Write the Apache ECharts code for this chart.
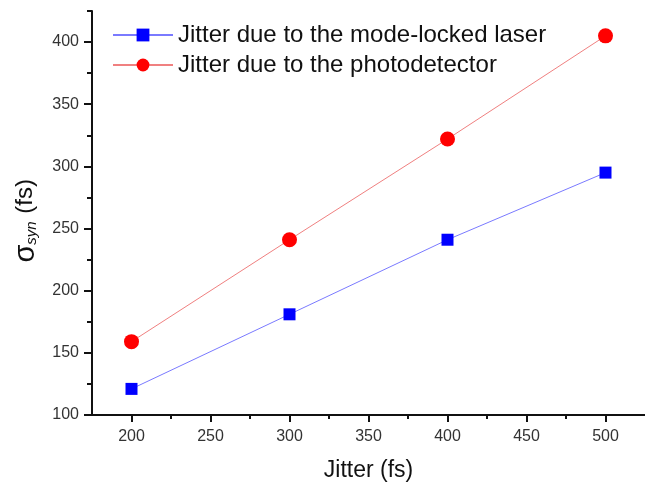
<!DOCTYPE html>
<html><head><meta charset="utf-8">
<script src="https://cdn.jsdelivr.net/npm/echarts@6/dist/echarts.min.js"></script>
<style>html,body{margin:0;padding:0;background:#fff}#c{width:645px;height:487px}</style>
</head><body><div id="c"></div>
<script>
const jitter = [200, 300, 400, 500];
const laserSeries = [121, 181, 241, 295];
const pdSeries = [159, 241, 322, 405];
const xMajor = [200, 250, 300, 350, 400, 450, 500];
const xMinor = [225, 275, 325, 375, 425, 475];
const yMajor = [100, 150, 200, 250, 300, 350, 400];
const yMinor = [125, 175, 225, 275, 325, 375, 425];
const names = ['Jitter due to the mode-locked laser', 'Jitter due to the photodetector'];

const FONT = 'Arial, "Liberation Sans", sans-serif';
const chart = echarts.init(document.getElementById('c'), null, {renderer: 'canvas'});
const axisLine = {show: true, onZero: false, lineStyle: {color: '#111', width: 2}};
chart.setOption({
  animation: false,
  backgroundColor: '#fff',
  grid: {left: 92, top: 11, width: 557, height: 407, containLabel: false},
  legend: {
    orient: 'vertical', left: 112, top: 20, padding: 0, itemWidth: 60, itemHeight: 16, itemGap: 0,
    textStyle: {fontFamily: FONT, fontSize: 24, color: '#111', lineHeight: 30},
    data: names
  },
  xAxis: [{
    type: 'value', min: 175, max: 525, position: 'bottom',
    axisLine: axisLine,
    axisTick: {show: true, inside: false, length: 7, lineStyle: {color: '#111', width: 2}, customValues: xMajor},
    axisLabel: {customValues: xMajor, fontFamily: FONT, fontSize: 16, color: '#333', margin: 14},
    splitLine: {show: false},
    name: 'Jitter (fs)', nameLocation: 'middle', nameGap: 44,
    nameTextStyle: {fontFamily: FONT, fontSize: 23, color: '#111'}
  }, {
    type: 'value', min: 175, max: 525, position: 'bottom',
    axisLine: {show: false},
    axisTick: {show: true, length: 4, lineStyle: {color: '#111', width: 2}, customValues: xMinor},
    axisLabel: {show: false}, splitLine: {show: false}
  }],
  yAxis: [{
    type: 'value', min: 100, max: 425, position: 'left',
    axisLine: axisLine,
    axisTick: {show: true, length: 8, lineStyle: {color: '#111', width: 2}, customValues: yMajor},
    axisLabel: {customValues: yMajor, fontFamily: FONT, fontSize: 16, color: '#333', margin: 13},
    splitLine: {show: false}
  }, {
    type: 'value', min: 100, max: 425, position: 'left',
    axisLine: {show: false},
    axisTick: {show: true, length: 5, lineStyle: {color: '#111', width: 2}, customValues: yMinor},
    axisLabel: {show: false}, splitLine: {show: false}
  }],
  graphic: [{
    type: 'text', left: 11, top: 179, rotation: Math.PI / 2, originX: 0, originY: 0,
    style: {
      text: '{s|σ}{sub|syn}{n| (fs)}',
      rich: {
        s: {fontFamily: FONT, fontSize: 29, fill: '#111'},
        sub: {fontFamily: FONT, fontSize: 15, fontStyle: 'italic', fill: '#111', padding: [13, 1, 0, 0]},
        n: {fontFamily: FONT, fontSize: 24, fill: '#111'}
      }
    }
  }],
  series: [{
    name: names[0], type: 'line', xAxisIndex: 0, yAxisIndex: 0,
    data: jitter.map((x, i) => [x, laserSeries[i]]),
    symbol: 'rect', symbolSize: 12,
    lineStyle: {color: '#7a7aff', width: 1},
    itemStyle: {color: '#0000ff'}
  }, {
    name: names[1], type: 'line', xAxisIndex: 0, yAxisIndex: 0,
    data: jitter.map((x, i) => [x, pdSeries[i]]),
    symbol: 'circle', symbolSize: 15,
    lineStyle: {color: '#f08080', width: 1},
    itemStyle: {color: '#ff0000'}
  }]
});
</script></body></html>
